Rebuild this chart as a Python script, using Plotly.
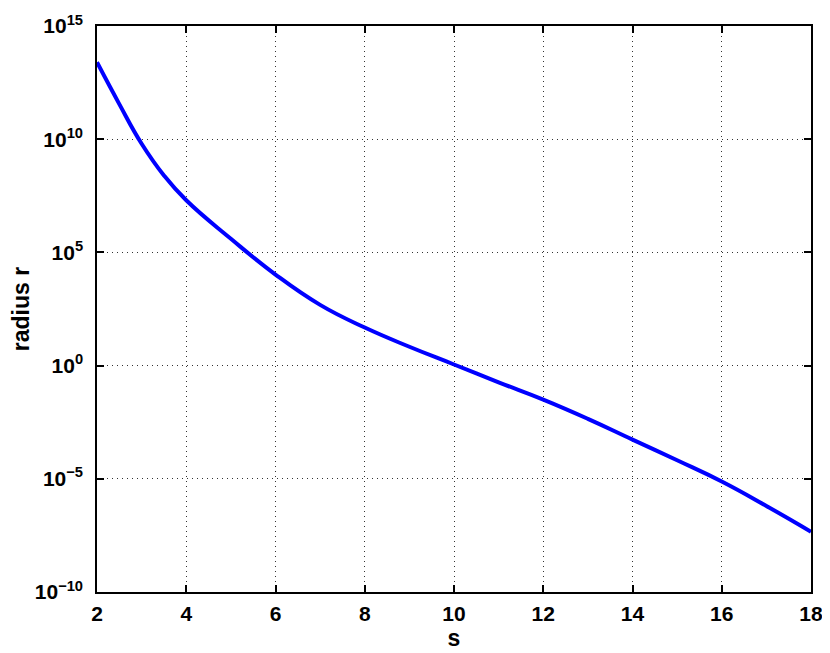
import plotly.graph_objects as go

s = [2, 2.5, 3, 3.5, 4, 5, 6, 7, 8, 9, 10, 11, 12, 13, 14, 15, 16, 17, 18]
radius = [2.5e13, 3.55e11, 6.3e9, 2.5e8, 2.0e7, 4.0e5, 1.05e4, 4.8e2, 4.8e1,
          6.8e0, 1.12e0, 1.82e-1, 3.16e-2, 4.47e-3, 5.4e-4, 6.6e-5, 7.6e-6, 6.3e-7, 4.6e-8]

x_ticks = [2, 4, 6, 8, 10, 12, 14, 16, 18]
y_tickvals = [1e-10, 1e-5, 1e0, 1e5, 1e10, 1e15]
y_ticktext = ["10<sup>−10</sup>", "10<sup>−5</sup>", "10<sup>0</sup>",
              "10<sup>5</sup>", "10<sup>10</sup>", "10<sup>15</sup>"]

fam = "Liberation Sans, Arial, sans-serif"
font = dict(family=fam, size=21, color="black", weight="bold")
title_font = dict(family=fam, size=23, color="black", weight="bold")

fig = go.Figure()
fig.add_trace(go.Scatter(x=s, y=radius, mode="lines",
                         line=dict(color="#0000ff", width=4, shape="spline", smoothing=1.3)))

axis_common = dict(showline=True, linecolor="black", linewidth=1.5, mirror="ticks",
                   ticks="inside", ticklen=7, tickcolor="black", tickwidth=1.5,
                   showgrid=True, gridcolor="#333333", gridwidth=1, griddash="1px,4px",
                   zeroline=False, tickfont=font, automargin=False)

fig.update_xaxes(range=[2, 18], tickvals=x_ticks, ticktext=[str(v) for v in x_ticks],
                 ticklabelstandoff=2,
                 title=dict(text="s", font=title_font, standoff=0),
                 **axis_common)
fig.update_yaxes(type="log", range=[-10, 15], tickvals=y_tickvals, ticktext=y_ticktext,
                 ticklabelstandoff=8,
                 title=dict(text="radius r", font=title_font, standoff=2),
                 **axis_common)

# page body adds an 8px offset; plot area then sits at 97..811 x 26..592 in the window
fig.update_layout(width=822, height=645, margin=dict(l=89, r=19, t=18, b=61),
                  plot_bgcolor="white", paper_bgcolor="white", showlegend=False)

fig.write_html("out.html")
